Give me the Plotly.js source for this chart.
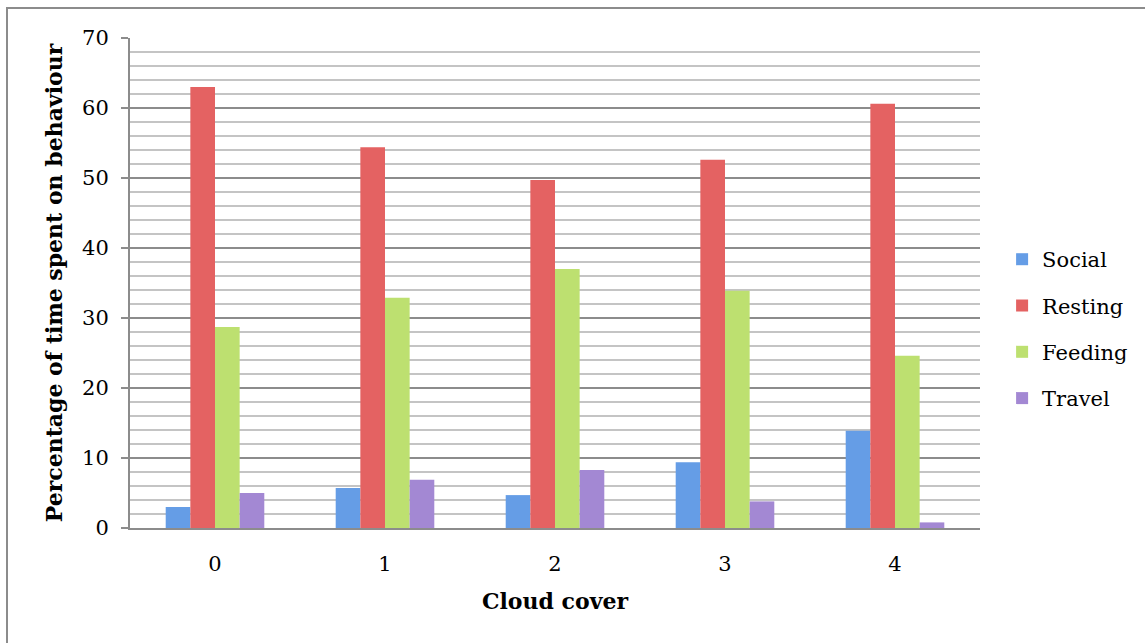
<!DOCTYPE html>
<html>
<head>
<meta charset="utf-8">
<script src="https://cdn.plot.ly/plotly-3.0.1.min.js"></script>
<style>
  html, body { margin: 0; padding: 0; background: #fff; }
  #wrap { position: relative; width: 1145px; height: 643px; overflow: hidden; }
  #frame { position: absolute; left: 6px; top: 7px; width: 1200px; height: 700px;
           border-left: 2px solid #8c8c8c; border-top: 2px solid #8c8c8c; }
  #chart { position: absolute; left: 0; top: 0; width: 1145px; height: 643px; }
</style>
</head>
<body>
<div id="wrap">
  <div id="frame"></div>
  <div id="chart"></div>
</div>
<script>
const categories = ["0", "1", "2", "3", "4"];
const social  = [3.0, 5.7, 4.7, 9.4, 13.9];
const resting = [63.0, 54.4, 49.7, 52.6, 60.6];
const feeding = [28.7, 32.9, 37.0, 33.9, 24.6];
const travel  = [5.0, 6.9, 8.3, 3.8, 0.8];
const seriesNames = ["Social", "Resting", "Feeding", "Travel"];
const yTicks = [0, 10, 20, 30, 40, 50, 60, 70];

const colors = ["#659de6", "#e46262", "#bde070", "#a388d3"];
const values = [social, resting, feeding, travel];
const fontFam = "DejaVu Serif, serif";

const traces = seriesNames.map((n, i) => ({
  type: "bar",
  name: n,
  x: categories,
  y: values[i],
  legendgroup: "g" + i,
  marker: { color: colors[i], line: { width: 0 } },
  hoverinfo: "x+y+name"
}));

const layout = {
  width: 1145, height: 643,
  margin: { l: 130, r: 165, t: 38, b: 115 },
  paper_bgcolor: "rgba(0,0,0,0)",
  plot_bgcolor: "#ffffff",
  barmode: "group",
  bargap: 0.42,
  bargroupgap: 0,
  font: { family: fontFam, size: 21, color: "#000" },
  xaxis: {
    type: "category",
    showgrid: false,
    showline: true, linecolor: "#8c8c8c", linewidth: 2,
    ticks: "", tickfont: { size: 21 },
    ticklabelstandoff: 16,
    title: { text: "<b>Cloud cover</b>", font: { size: 22 }, standoff: 18 }
  },
  yaxis: {
    range: [0, 70],
    tickvals: yTicks,
    ticktext: yTicks.map(String),
    showline: true, linecolor: "#8c8c8c", linewidth: 2,
    ticks: "outside", ticklen: 7, tickcolor: "#8c8c8c", tickwidth: 1.5,
    ticklabelstandoff: 8,
    showgrid: true, gridcolor: "#8c8c8c", gridwidth: 1.5,
    zeroline: false,
    minor: { dtick: 2, tick0: 0, showgrid: true, gridcolor: "#c4c4c4", gridwidth: 1.5, ticks: "" },
    tickfont: { size: 21 },
    title: { text: "<b>Percentage of time spent on behaviour</b>", font: { size: 22 }, standoff: 13 }
  },
  legend: {
    x: 1.026, xanchor: "left",
    y: 0.406, yanchor: "middle",
    tracegroupgap: 16,
    font: { size: 21 },
    bgcolor: "rgba(0,0,0,0)"
  },
  showlegend: true
};

Plotly.newPlot("chart", traces, layout, { displayModeBar: false, staticPlot: true });
</script>
</body>
</html>
